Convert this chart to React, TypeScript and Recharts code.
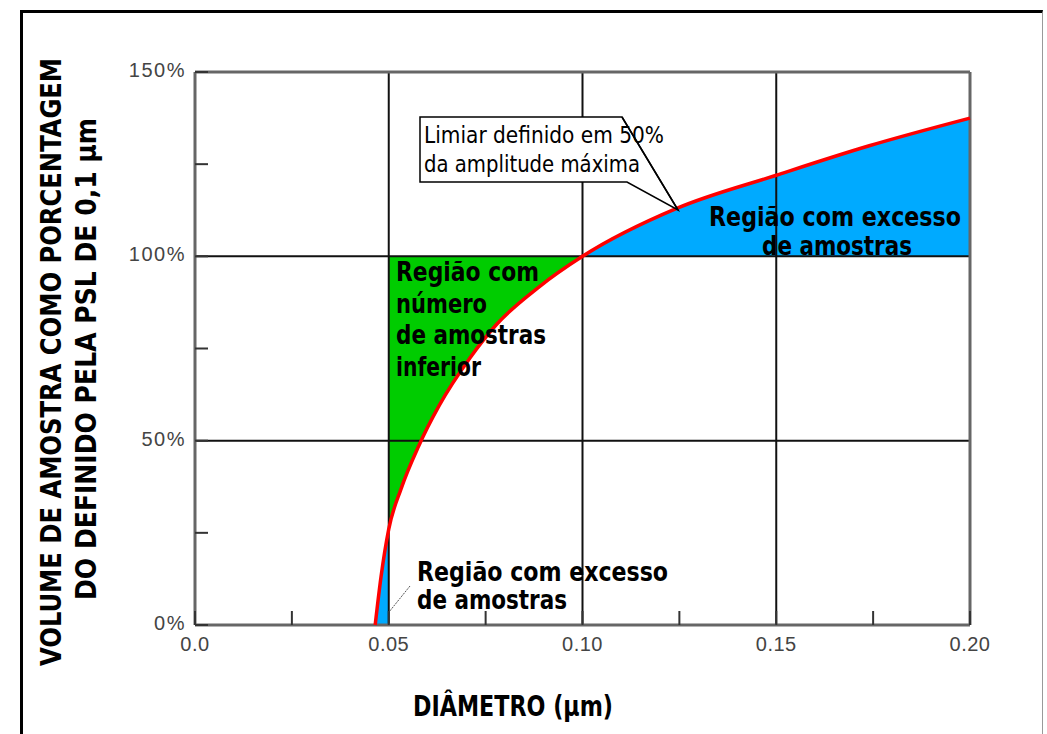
import React from 'react';
import { ComposedChart, Line, Area, XAxis, YAxis, ReferenceLine } from 'recharts';

// diameter (µm) and sample volume as % of the 0.1 µm PSL reference
const diameters = [0.0465, 0.048, 0.05, 0.0532, 0.0577, 0.063, 0.071, 0.0778, 0.0889, 0.1, 0.1243, 0.15, 0.174, 0.2];
const volumePct = [0, 13, 26, 37, 48.5, 59.5, 72.5, 81.5, 91.8, 100, 113, 122, 130, 137.5];

const xTicks = [0, 0.025, 0.05, 0.075, 0.1, 0.125, 0.15, 0.175, 0.2];
const xTickLabels = ['0.0', '', '0.05', '', '0.10', '', '0.15', '', '0.20'];
const yTicks = [0, 25, 50, 75, 100, 125, 150];
const yTickLabels = ['0%', '', '50%', '', '100%', '', '150%'];
const gridX = [0.05, 0.1, 0.15];
const gridY = [50, 100];

const THRESHOLD = 100;
const LOW_D = 0.05;
const REF_D = 0.1;

const data = diameters.map((d, i) => {
  const v = volumePct[i];
  return {
    d,
    v,
    excessLow: d <= LOW_D ? [0, v] : null,
    deficit: d >= LOW_D && d <= REF_D ? [v, THRESHOLD] : null,
    excessHigh: d >= REF_D ? [THRESHOLD, v] : null,
  };
});

const W = 1047;
const H = 734;
const PLOT_LEFT = 195;
const PLOT_RIGHT = 970;
const PLOT_TOP = 72;
const PLOT_BOTTOM = 625;

const NARROW = "'Liberation Sans Narrow', 'Arial Narrow', 'DejaVu Sans Condensed', sans-serif";
const SANS = "'Liberation Sans', Arial, sans-serif";

function XTick(props: any) {
  const { x, payload } = props;
  const i = xTicks.indexOf(payload.value);
  const label = xTickLabels[i] ?? '';
  return (
    <g>
      <line x1={x} x2={x} y1={PLOT_BOTTOM} y2={PLOT_BOTTOM - 14} stroke="#333" strokeWidth={2} />
      {label && (
        <text x={x} y={PLOT_BOTTOM + 26} textAnchor="middle" fontFamily={SANS} fontSize={20} fill="#444" letterSpacing={0.5}>
          {label}
        </text>
      )}
    </g>
  );
}

function YTick(props: any) {
  const { y, payload } = props;
  const i = yTicks.indexOf(payload.value);
  const label = yTickLabels[i] ?? '';
  return (
    <g>
      <line x1={PLOT_LEFT} x2={PLOT_LEFT + 13} y1={y} y2={y} stroke="#333" strokeWidth={2} />
      {label && (
        <text x={PLOT_LEFT - 9} y={y + 5} textAnchor="end" fontFamily={SANS} fontSize={20} fill="#444" letterSpacing={1.5}>
          {label}
        </text>
      )}
    </g>
  );
}

export default function App() {
  return (
    <div style={{ position: 'absolute', left: 0, top: 0, width: W, height: H, background: '#fff', overflow: 'hidden' }}>
      <div
        style={{
          position: 'absolute',
          left: 20,
          top: 10,
          width: 1019,
          height: 760,
          borderTop: '3px solid #000',
          borderLeft: '3px solid #000',
          borderRight: '1px solid #999',
        }}
      />
      <div style={{ position: 'absolute', left: 0, top: 0 }}>
        <ComposedChart
          width={W}
          height={H}
          data={data}
          margin={{ top: PLOT_TOP, right: W - PLOT_RIGHT, bottom: 69, left: PLOT_LEFT - 60 }}
        >
          <XAxis
            dataKey="d"
            type="number"
            domain={[0, 0.2]}
            ticks={xTicks}
            interval={0}
            axisLine={false}
            tickLine={false}
            height={40}
            tick={(p: any) => <XTick {...p} />}
          />
          <YAxis
            type="number"
            domain={[0, 150]}
            ticks={yTicks}
            interval={0}
            axisLine={false}
            tickLine={false}
            width={60}
            tick={(p: any) => <YTick {...p} />}
          />
          <Area dataKey="excessLow" type="monotone" stroke="none" fill="#00aaff" fillOpacity={1} isAnimationActive={false} />
          <Area dataKey="deficit" type="monotone" stroke="none" fill="#00cc00" fillOpacity={1} isAnimationActive={false} />
          <Area dataKey="excessHigh" type="monotone" stroke="none" fill="#00aaff" fillOpacity={1} isAnimationActive={false} />
          {gridX.map((g) => (
            <ReferenceLine key={`gx${g}`} x={g} stroke="#111" strokeWidth={2} />
          ))}
          {gridY.map((g) => (
            <ReferenceLine key={`gy${g}`} y={g} stroke="#111" strokeWidth={2} />
          ))}
          <ReferenceLine x={0} stroke="#666" strokeWidth={3} />
          <ReferenceLine x={0.2} stroke="#666" strokeWidth={3} />
          <ReferenceLine y={0} stroke="#666" strokeWidth={3} />
          <ReferenceLine y={150} stroke="#666" strokeWidth={3} />
          <Line dataKey="v" type="monotone" stroke="#ff0000" strokeWidth={3.5} dot={false} isAnimationActive={false} />
        </ComposedChart>
      </div>
      <svg width={W} height={H} style={{ position: 'absolute', left: 0, top: 0, pointerEvents: 'none' }}>
        {/* callout */}
        <path d="M420,117 L622,117 L678,210 L627,182 L420,182 Z" fill="#fff" stroke="#000" strokeWidth={1.5} />
        <g fontFamily={NARROW} fontSize={23} fill="#000">
          <text x={424} y={143} textLength={240} lengthAdjust="spacingAndGlyphs">Limiar definido em 50%</text>
          <text x={424} y={172} textLength={216} lengthAdjust="spacingAndGlyphs">da amplitude máxima</text>
        </g>
        <line x1={622} y1={117} x2={678} y2={210} stroke="#000" strokeWidth={1.5} />

        <g fontFamily={NARROW} fontSize={27} fontWeight="bold" fill="#000">
          <text x={709} y={226} textLength={252} lengthAdjust="spacingAndGlyphs">Região com excesso</text>
          <text x={762} y={255} textLength={150} lengthAdjust="spacingAndGlyphs">de amostras</text>

          <text x={396} y={281} textLength={143} lengthAdjust="spacingAndGlyphs">Região com</text>
          <text x={396} y={313} textLength={91} lengthAdjust="spacingAndGlyphs">número</text>
          <text x={396} y={344} textLength={150} lengthAdjust="spacingAndGlyphs">de amostras</text>
          <text x={396} y={376} textLength={85} lengthAdjust="spacingAndGlyphs">inferior</text>

          <text x={417} y={581} textLength={251} lengthAdjust="spacingAndGlyphs">Região com excesso</text>
          <text x={417} y={609} textLength={150} lengthAdjust="spacingAndGlyphs">de amostras</text>
        </g>
        <line x1={410} y1={586} x2={389} y2={612} stroke="#555" strokeWidth={1} strokeDasharray="2 1" />

        <g fontFamily={NARROW} fontSize={29} fontWeight="bold" fill="#000">
          <text x={413} y={716} textLength={200} lengthAdjust="spacingAndGlyphs">DIÂMETRO (µm)</text>
          <text transform="translate(61, 666) rotate(-90)" textLength={608} lengthAdjust="spacingAndGlyphs">
            VOLUME DE AMOSTRA COMO PORCENTAGEM
          </text>
          <text transform="translate(96, 600) rotate(-90)" textLength={482} lengthAdjust="spacingAndGlyphs">
            DO DEFINIDO PELA PSL DE 0,1 µm
          </text>
        </g>
      </svg>
    </div>
  );
}
